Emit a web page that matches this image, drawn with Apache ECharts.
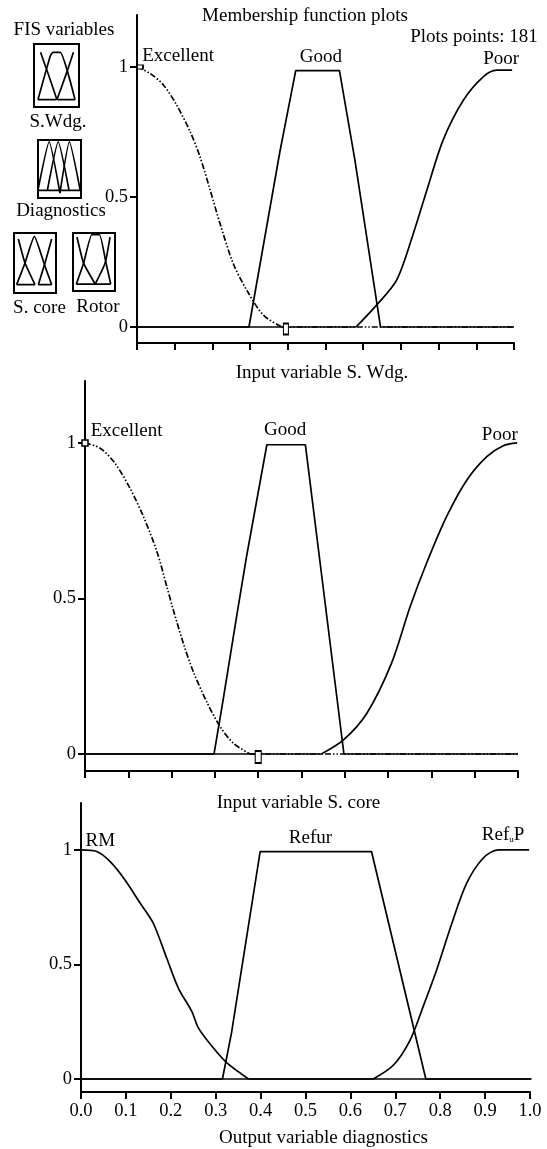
<!DOCTYPE html>
<html>
<head>
<meta charset="utf-8">
<style>html,body{margin:0;padding:0;background:#fff}#c{width:547px;height:1149px}</style>
<script src="https://cdn.jsdelivr.net/npm/echarts@6/dist/echarts.min.js"></script>
</head>
<body>
<div id="c"></div>
<script>
// ---- Panel 1: membership function plots
const p1Excellent = [[0,1],[.034,.976],[.07,.931],[.105,.854],[.141,.751],[.167,.655],[.194,.527],[.22,.399],[.255,.245],[.291,.142],[.335,.046],[.384,0],[1,0]];
const p1Good = [[0,0],[.297,0],[.379,.674],[.421,.986],[.537,.986],[.578,.642],[.646,0],[1,0]];
const p1Poor = [[0,0],[.581,0],[.636,.085],[.689,.181],[.733,.36],[.769,.527],[.812,.719],[.866,.873],[.919,.963],[.954,.988],[.995,.988]];
// ---- Panel 2: input variable S. Wdg.
const p2Excellent = [[0,1],[.035,.983],[.069,.935],[.104,.854],[.135,.763],[.166,.651],[.189,.538],[.204,.463],[.227,.356],[.25,.265],[.281,.168],[.312,.088],[.343,.034],[.381,0],[1,0]];
const p2Good = [[0,0],[.298,0],[.319,.174],[.35,.441],[.373,.634],[.42,.994],[.509,.994],[.598,0],[1,0]];
const p2Poor = [[0,0],[.546,0],[.597,.045],[.651,.131],[.708,.292],[.751,.474],[.789,.614],[.835,.763],[.882,.881],[.928,.956],[.966,.991],[.998,1]];
// ---- Panel 3: input variable S. core
const p3RM = [[0,1],[.035,.993],[.065,.949],[.098,.869],[.132,.767],[.161,.68],[.191,.527],[.217,.396],[.247,.294],[.262,.221],[.295,.135],[.325,.07],[.373,0],[1.003,0]];
const p3Refur = [[0,0],[.315,0],[.335,.199],[.399,.993],[.647,.993],[.768,0],[1.003,0]];
const p3RefuP = [[0,0],[.651,0],[.696,.061],[.733,.17],[.762,.316],[.792,.476],[.826,.68],[.859,.855],[.896,.965],[.929,1],[.998,1]];
// ---- Thumbnail icons (fractions of each thumbnail box)
const iconSWdg = [
  [[.146,.868],[.328,.5],[.51,.116]],
  [[.088,.116],[.365,.816],[.42,.868],[.584,.868],[.912,.116]],
  [[.51,.116],[.73,.553],[.876,.868]],
  [[.088,.116],[.5,.116]],
  [[.52,.116],[.912,.116]]
];
const iconDiagnostics = [
  [[0,.14],[.26,.97],[.51,.086]],
  [[.22,.14],[.47,.97],[.72,.14]],
  [[.51,.086],[.73,.97],[.98,.14]],
  [[0,.131],[1,.131]]
];
const iconSCore = [
  [[.103,.9],[.262,.5],[.5,.139]],
  [[.063,.139],[.262,.5],[.484,.944],[.738,.444],[.897,.139]],
  [[.579,.139],[.738,.5],[.897,.9]],
  [[.063,.139],[.5,.139]],
  [[.579,.139],[.897,.139]]
];
const iconRotor = [
  [[.094,.93],[.252,.48],[.528,.12]],
  [[.079,.12],[.252,.48],[.449,.97],[.63,.97],[.787,.48],[.898,.12]],
  [[.528,.12],[.764,.48],[.882,.93]],
  [[.079,.12],[.898,.12]]
];
// ---- Ticks and labels
const yTicks = [0, 0.5, 1];
const p1Labels = [['Excellent',.109,1.042],['Good',.488,1.038],['Poor',.966,1.031]];
const p2Labels = [['Excellent',.096,1.039],['Good',.462,1.042],['Poor',.958,1.026]];
const p3Labels = [['RM',.043,1.039],['Refur',.511,1.052],['Ref{s|u}P',.94,1.066]];
const sliderMarks1 = [[0,1],[.395,0]];
const sliderMarks2 = [[0,1],[.4,0]];

const FONT = '"Liberation Serif","Times New Roman",serif';
const FS = 19;
const INK = '#000';

const panels = [
  {left:137, top:15,  width:377, height:328, min:-.0615, max:1.2,  showX:false, straight:[p1Good], curved:[p1Poor], dash:p1Excellent, labels:p1Labels, marks:sliderMarks1, sizes:[[6,4],[5,11]], off:[[3,0],[0,2]]},
  {left:85,  top:381, width:433, height:390, min:-.0547, max:1.199,showX:false, straight:[p2Good], curved:[p2Poor], dash:p2Excellent, labels:p2Labels, marks:sliderMarks2, sizes:[[6,6],[6,12]], off:[[0,0],[0,3]]},
  {left:81,  top:803, width:449, height:289, min:-.0568, max:1.205,showX:true,  straight:[p3Refur], curved:[p3RefuP,p3RM], dash:null, labels:p3Labels, marks:[], sizes:[], off:[]}
];
const icons = [
  {left:34, top:44,  width:45, height:63, lines:iconSWdg},
  {left:38, top:140, width:43, height:58, lines:iconDiagnostics},
  {left:14, top:233, width:42, height:60, lines:iconSCore},
  {left:73, top:233, width:42, height:58, lines:iconRotor}
];

// A membership curve leaves and rejoins the zero line with a sharp corner,
// so flat runs at zero are drawn straight and only the curved part is smoothed.
function splitFlat(d) {
  let a = 0, b = d.length - 1;
  while (a < d.length - 1 && d[a + 1][1] === 0) a++;
  while (b > 0 && d[b - 1][1] === 0) b--;
  const parts = [{data:d.slice(a, b + 1), smooth:.3}];
  if (a > 0) parts.push({data:d.slice(0, a + 1), smooth:false});
  if (b < d.length - 1) parts.push({data:d.slice(b), smooth:false});
  return parts;
}

const grid = [], xAxis = [], yAxis = [], series = [];
panels.forEach((p, i) => {
  grid.push({left:p.left, top:p.top, width:p.width, height:p.height, containLabel:false});
  xAxis.push({
    type:'value', gridIndex:i, min:0, max:1, interval:.1, splitLine:{show:false},
    axisLine:{onZero:false, lineStyle:{color:INK, width:2}},
    axisTick:{show:true, length:7, inside:false, lineStyle:{color:INK, width:2}},
    axisLabel:{show:p.showX, color:INK, fontFamily:FONT, fontSize:18.5, margin:10, showMinLabel:true, showMaxLabel:true,
      formatter:v => v.toFixed(1)}
  });
  yAxis.push({
    type:'value', gridIndex:i, min:p.min, max:p.max, splitLine:{show:false},
    axisLine:{onZero:false, lineStyle:{color:INK, width:2}},
    axisTick:{show:true, length:7, customValues:yTicks, lineStyle:{color:INK, width:2}},
    axisLabel:{color:INK, fontFamily:FONT, fontSize:18.5, margin:9, customValues:yTicks, formatter:v => String(v)}
  });
  const lineBase = {type:'line', xAxisIndex:i, yAxisIndex:i, showSymbol:false, symbol:'none', clip:false, silent:true, z:3};
  p.straight.forEach(d => series.push(Object.assign({}, lineBase, {data:d, lineStyle:{color:INK, width:1.7}})));
  p.curved.forEach(d => splitFlat(d).forEach(s => series.push(Object.assign({}, lineBase, s, {lineStyle:{color:INK, width:1.7}}))));
  if (p.dash) splitFlat(p.dash).forEach(s => series.push(Object.assign({}, lineBase, s, {lineStyle:{color:INK, width:1.7, type:[6,2,1.5,2,1.5,2]}})));
  series.push({
    type:'scatter', xAxisIndex:i, yAxisIndex:i, silent:true, z:5, clip:false,
    data:p.labels.map(l => ({value:[l[1], l[2]], name:l[0]})),
    symbolSize:0,
    itemStyle:{opacity:1},
    label:{show:true, position:'inside', align:'center', verticalAlign:'middle', color:INK, fontFamily:FONT, fontSize:FS,
      formatter:o => o.name,
      rich:{s:{fontFamily:FONT, fontSize:9, color:INK, verticalAlign:'bottom', padding:[8,0,0,0]}}}
  });
  p.marks.forEach((m, k) => series.push({
    type:'scatter', xAxisIndex:i, yAxisIndex:i, silent:true, z:6, clip:false, data:[m], symbol:'rect',
    symbolSize:p.sizes[k], symbolOffset:p.off[k],
    itemStyle:{color:'#fff', borderColor:INK, borderWidth:1.5, opacity:1}
  }));
});
icons.forEach((ic, n) => {
  const i = panels.length + n;
  grid.push({left:ic.left, top:ic.top, width:ic.width, height:ic.height, show:true, backgroundColor:'#fff', borderColor:INK, borderWidth:2});
  xAxis.push({type:'value', gridIndex:i, min:0, max:1, show:false});
  yAxis.push({type:'value', gridIndex:i, min:0, max:1, show:false});
  ic.lines.forEach(d => series.push({type:'line', xAxisIndex:i, yAxisIndex:i, data:d, showSymbol:false, symbol:'none', silent:true, smooth:.15, lineStyle:{color:INK, width:1.7}}));
});

const titleAt = (text, x, y) => ({text, left:x, top:y, textAlign:'center', textVerticalAlign:'middle', padding:0,
  textStyle:{color:INK, fontFamily:FONT, fontSize:FS, fontWeight:'normal'}});

const chart = echarts.init(document.getElementById('c'), null, {renderer:'canvas'});
chart.setOption({
  animation:false,
  backgroundColor:'#fff',
  title:[
    titleAt('Membership function plots', 305, 16),
    titleAt('Plots points: 181', 474, 37),
    titleAt('FIS variables', 64, 30),
    titleAt('S.Wdg.', 58, 122),
    titleAt('Diagnostics', 61, 211),
    titleAt('S. core', 39.5, 308),
    titleAt('Rotor', 98, 307),
    titleAt('Input variable S. Wdg.', 322, 373),
    titleAt('Input variable S. core', 298.5, 803),
    titleAt('Output variable diagnostics', 323.5, 1138)
  ],
  grid, xAxis, yAxis, series
});
</script>
</body>
</html>
